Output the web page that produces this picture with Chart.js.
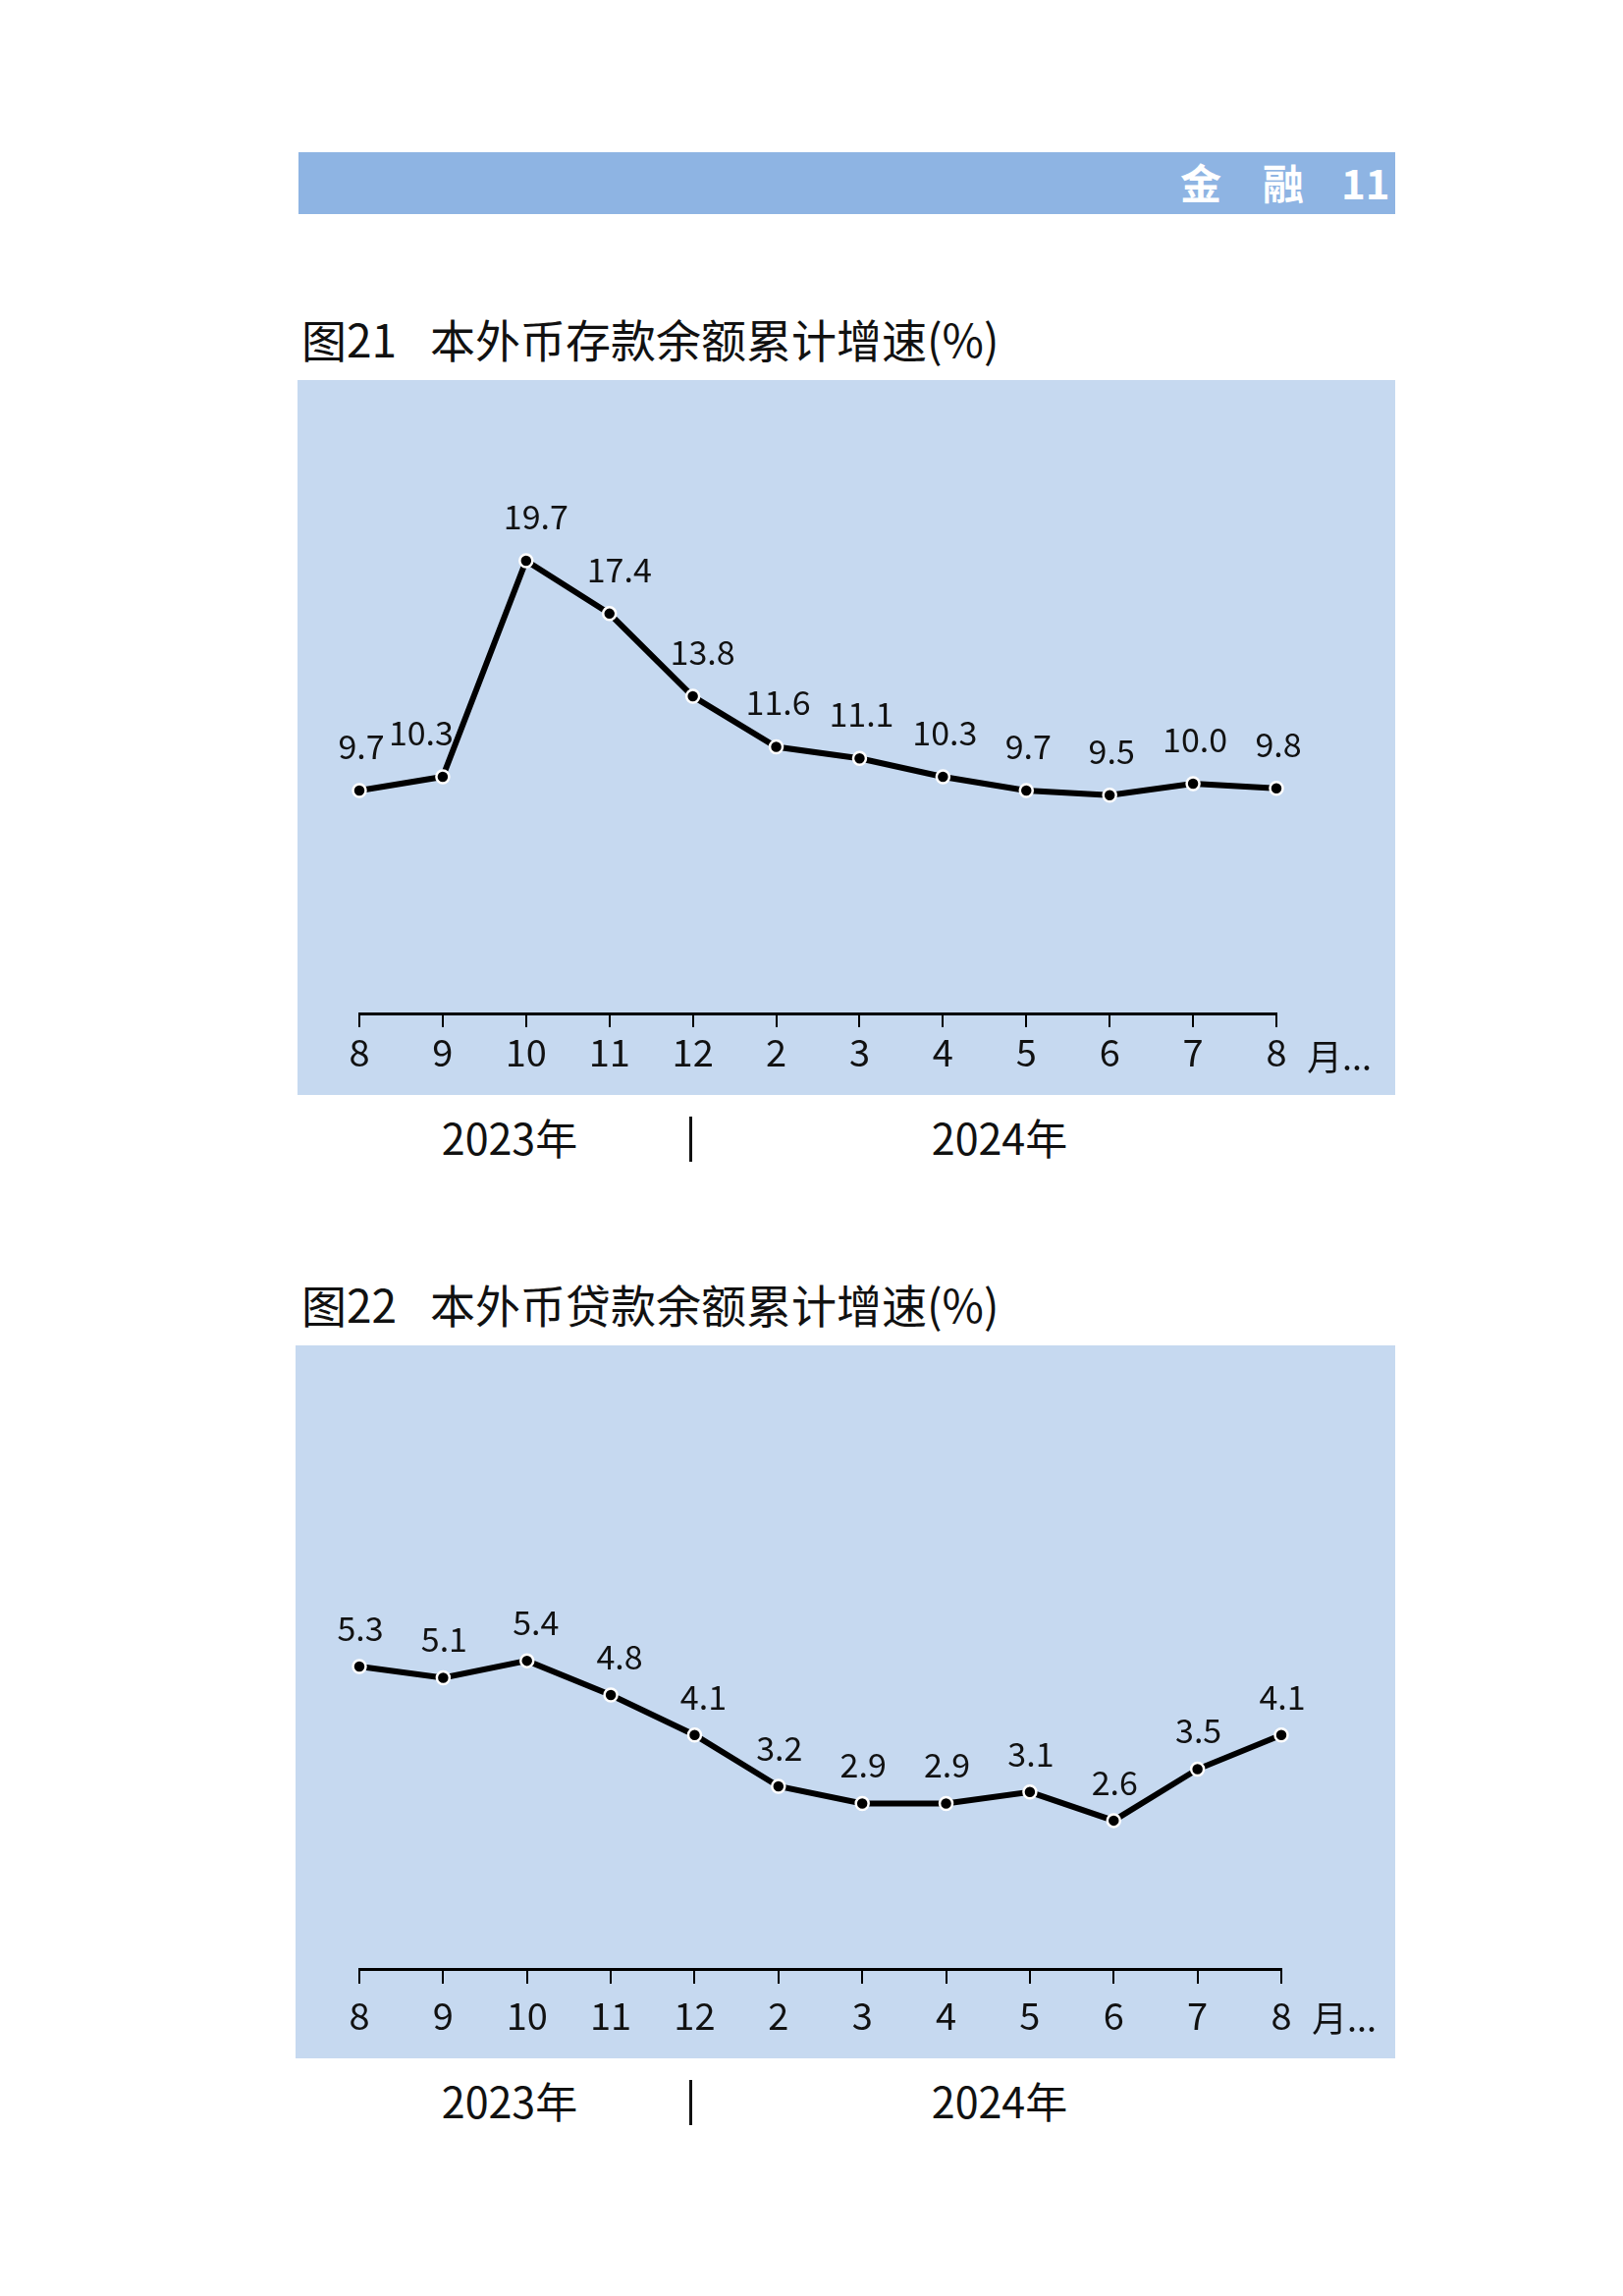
<!DOCTYPE html>
<html>
<head>
<meta charset="utf-8">
<script src="https://cdn.jsdelivr.net/npm/chart.js@4.4.1/dist/chart.umd.min.js"></script>
<style>
    body { margin: 0; background: #fff; width: 1653px; height: 2338px; position: relative; font-family: "Noto Sans CJK SC", "Noto Sans", sans-serif; }
    .abs { position: absolute; }
    .bar { left: 304px; top: 155px; width: 1117px; height: 63px; background: #8EB4E3; }
    .hd { color: #fff; font-weight: bold; font-size: 42px; line-height: 42px; top: 164px; }
    .title { left: 307px; font-size: 46px; line-height: 50px; color: #111; white-space: pre; }
    .title span { margin-left: 34px; }
    .panel { background: #C6D9F0; }
    .year { font-size: 43px; line-height: 46px; color: #111; transform: translateX(-50%); }
    .sep { width: 3px; background: #111; }
</style>
</head>
<body>

<div class="abs bar"></div>
<div class="abs hd" style="left:1202px">金</div>
<div class="abs hd" style="left:1286px">融</div>
<div class="abs hd" style="left:1366px">11</div>

<div class="abs title" style="top:319px">图21<span>本外币存款余额累计增速(%)</span></div>
<div class="abs panel" style="left:303px;top:387px;width:1118px;height:728px">
    <canvas id="chartDeposit" width="1118" height="728"></canvas>
</div>
<div class="abs year" style="left:519px;top:1134px">2023年</div>
<div class="abs sep" style="left:702px;top:1137px;height:46px"></div>
<div class="abs year" style="left:1018px;top:1134px">2024年</div>

<div class="abs title" style="top:1302px">图22<span>本外币贷款余额累计增速(%)</span></div>
<div class="abs panel" style="left:301px;top:1370px;width:1120px;height:726px">
    <canvas id="chartLoan" width="1120" height="726"></canvas>
</div>
<div class="abs year" style="left:519px;top:2115px">2023年</div>
<div class="abs sep" style="left:702px;top:2118px;height:46px"></div>
<div class="abs year" style="left:1018px;top:2115px">2024年</div>

<script>
// Dados
var months        = ['8', '9', '10', '11', '12', '2', '3', '4', '5', '6', '7', '8'];
var depositGrowth = [9.7, 10.3, 19.7, 17.4, 13.8, 11.6, 11.1, 10.3, 9.7, 9.5, 10.0, 9.8];
var loanGrowth    = [5.3, 5.1, 5.4, 4.8, 4.1, 3.2, 2.9, 2.9, 3.1, 2.6, 3.5, 4.1];
var monthUnit     = '月...';

var FONT = '"Noto Sans CJK SC", "Noto Sans", sans-serif';

// rótulos de valor acima dos pontos + "月..." depois do último tick
var valueLabels = {
    id: 'valueLabels',
    afterDatasetsDraw: function(chart, args, opts){
        var ctx = chart.ctx
            , meta = chart.getDatasetMeta(0)
            , data = chart.data.datasets[0].data;
        ctx.save();
        ctx.fillStyle = '#111';
        ctx.font = '34px ' + FONT;
        ctx.textAlign = 'center';
        ctx.textBaseline = 'middle';
        meta.data.forEach((pt, i) => {
            var dx = opts.dx || 0
                , nx = meta.data[i + 1];
            if (nx && nx.y < pt.y - 60) dx = -22;
            else if (nx && nx.y > pt.y + 30) dx += 8;
            ctx.fillText(data[i].toFixed(1), pt.x + dx, pt.y - opts.dy);
        });
        var xs = chart.scales.x
            , last = xs.getPixelForValue(months.length - 1);
        ctx.font = '36px ' + FONT;
        ctx.textAlign = 'left';
        ctx.fillText(monthUnit, last + 31, xs.top + opts.unitY);
        ctx.restore();
    }
};

function makeChart(id, values, cfg){
    return new Chart(document.getElementById(id).getContext('2d'), {
        type: 'line',
        data: {
            labels: months,
            datasets: [{
                data: values,
                borderColor: '#000',
                borderWidth: 6,
                pointRadius: 6.5,
                pointBackgroundColor: '#000',
                pointBorderColor: '#fff',
                pointBorderWidth: 2.5,
                tension: 0
            }]
        },
        options: {
            responsive: false,
            animation: false,
            devicePixelRatio: 1,
            layout: { padding: cfg.padding },
            plugins: {
                legend: false,
                title: false,
                tooltip: { enabled: false },
                valueLabels: { dy: cfg.dy, dx: cfg.dx, unitY: cfg.unitY }
            },
            scales: {
                x: {
                    offset: false,
                    border: { display: true, color: '#000', width: 3 },
                    grid: { drawOnChartArea: false, drawTicks: true, tickLength: cfg.tickLength, color: '#000', lineWidth: 2 },
                    ticks: { color: '#111', font: { family: FONT, size: 38 }, padding: cfg.tickPad, maxRotation: 0, autoSkip: false },
                    afterFit: function(s){ s.height = cfg.axisHeight; }
                },
                y: { display: false, min: 0, max: cfg.max }
            }
        },
        plugins: [valueLabels]
    });
}

makeChart('chartDeposit', depositGrowth, {
    padding: { left: 63, right: 121, top: 60, bottom: 0 },
    max: 25, axisHeight: 83, tickLength: 14, tickPad: 3, dy: 45, dx: 2, unitY: 44
});

makeChart('chartLoan', loanGrowth, {
    padding: { left: 65, right: 116, top: 170, bottom: 0 },
    max: 8, axisHeight: 91, tickLength: 15, tickPad: 10, dy: 39, dx: 1, unitY: 50
});
</script>
</body>
</html>
